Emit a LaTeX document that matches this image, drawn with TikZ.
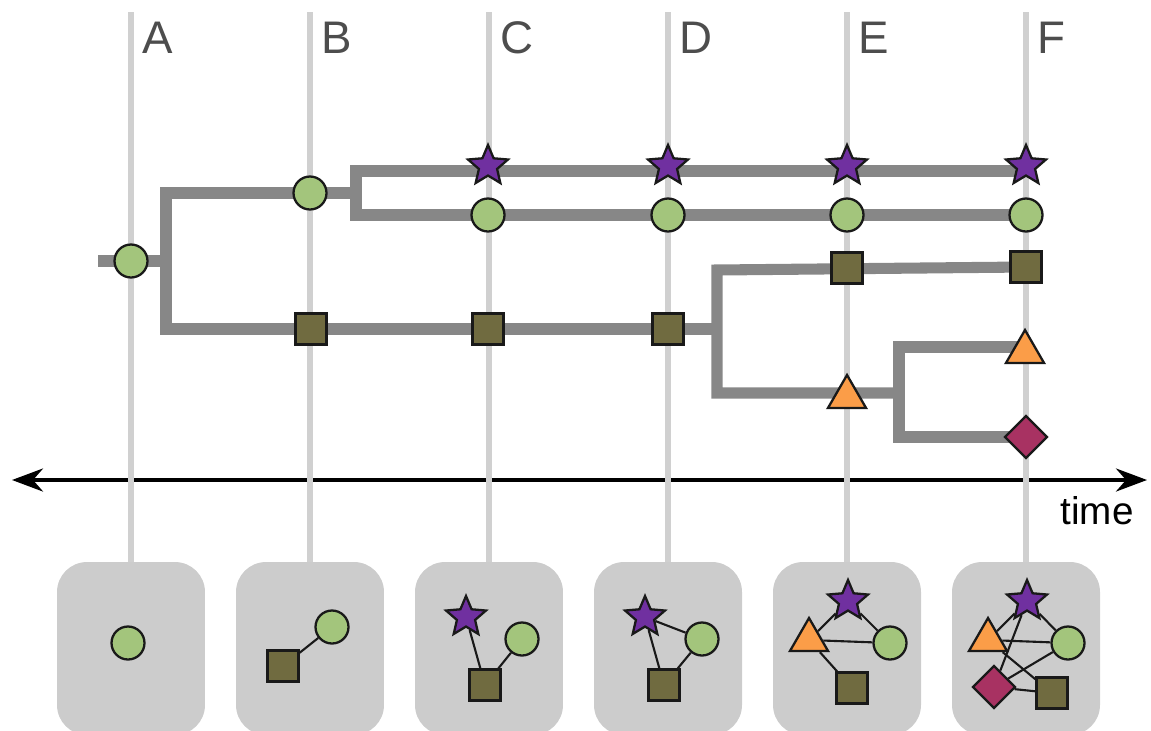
\documentclass[tikz,border=0pt]{standalone}
\usepackage{fontspec}
\setmainfont{Liberation Sans}
\usepackage{xcolor}
\usetikzlibrary{shapes.geometric,arrows.meta}
\definecolor{branchgray}{RGB}{135,135,135}
\definecolor{guidegray}{RGB}{208,208,208}
\definecolor{panelgray}{RGB}{204,204,204}
\definecolor{lettergray}{RGB}{77,77,77}
\definecolor{leafgreen}{RGB}{163,197,124}
\definecolor{mossolive}{RGB}{112,107,64}
\definecolor{starpurple}{RGB}{112,48,160}
\definecolor{triorange}{RGB}{251,157,72}
\definecolor{diamagenta}{RGB}{168,50,98}

\begin{document}
\begin{tikzpicture}[x=0.02cm,y=-0.02cm,
  circ/.style={circle,draw=black!90,line width=1.3pt,fill=leafgreen,minimum size=0.66cm,inner sep=0pt},
  sqr/.style={rectangle,draw=black!90,line width=1.3pt,fill=mossolive,minimum size=0.62cm,inner sep=0pt},
  strr/.style={star,star points=5,star point ratio=2.2,draw=black!90,line width=1.3pt,fill=starpurple,minimum size=0.84cm,inner sep=0pt},
  tri/.style={regular polygon,regular polygon sides=3,draw=black!90,line width=1.3pt,fill=triorange,minimum size=0.88cm,inner sep=0pt},
  dia/.style={diamond,draw=black!90,line width=1.3pt,fill=diamagenta,minimum width=0.86cm,minimum height=0.86cm,inner sep=0pt},
  branch/.style={line width=6.3pt,branchgray},
  guide/.style={line width=3.2pt,guidegray},
  panel/.style={rectangle,rounded corners=0.6cm,fill=panelgray,minimum width=2.96cm,minimum height=3.46cm},
  link/.style={line width=1.2pt,black!90},
  letter/.style={anchor=base west,inner sep=0pt,text=lettergray,font=\fontsize{26}{30}\selectfont},
  axis/.style={line width=2.2pt,{Stealth[length=0.62cm,width=0.46cm,inset=0.2cm]}-{Stealth[length=0.62cm,width=0.46cm,inset=0.2cm]}}]
\useasboundingbox (0,0) rectangle (1151,730);

% Time axis
\coordinate (tl) at (12,480);
\coordinate (tr) at (1147,480);
\draw[axis] (tl) -- (tr);
\node[inner sep=0pt,font=\fontsize{22}{26}\selectfont] (timelbl) at (1097,511) {time};

% Snapshot panels
\node[panel] (panelA) at (131,648.5) {};
\node[panel] (panelB) at (310,648.5) {};
\node[panel] (panelC) at (489,648.5) {};
\node[panel] (panelD) at (668,648.5) {};
\node[panel] (panelE) at (847,648.5) {};
\node[panel] (panelF) at (1026,648.5) {};

% Guide lines and letters
\coordinate (topA) at (131,12);
\coordinate (topB) at (310,12);
\coordinate (topC) at (489,12);
\coordinate (topD) at (668,12);
\coordinate (topE) at (847,12);
\coordinate (topF) at (1026,12);
\draw[guide] (topA) -- (panelA.north);
\draw[guide] (topB) -- (panelB.north);
\draw[guide] (topC) -- (panelC.north);
\draw[guide] (topD) -- (panelD.north);
\draw[guide] (topE) -- (panelE.north);
\draw[guide] (topF) -- (panelF.north);
\node[letter] (labA) at (142,53) {A};
\node[letter] (labB) at (321,53) {B};
\node[letter] (labC) at (500,53) {C};
\node[letter] (labD) at (679,53) {D};
\node[letter] (labE) at (858,53) {E};
\node[letter] (labF) at (1037,53) {F};

% Tree junctions
\coordinate (r0) at (98,261);
\coordinate (k1) at (166,261);
\coordinate (k1u) at (166,193);
\coordinate (k1d) at (166,329);
\coordinate (k2u) at (356,171);
\coordinate (k2d) at (356,215);
\coordinate (k3) at (717,329);
\coordinate (k3u) at (717,270);
\coordinate (k3d) at (717,393);
\coordinate (k4) at (899,393);
\coordinate (k4u) at (899,347);
\coordinate (k4d) at (899,437);
\coordinate (eF1) at (1026,171);
\coordinate (eF2) at (1026,215);
\coordinate (eF3) at (1026,267);
\coordinate (eF4) at (1026,347);
\coordinate (eF5) at (1026,437);

% Tree branches
\draw[branch] (r0) -- (k1);
\draw[branch] (356,193) -- (k1u) -- (k1d) -- (k3);
\draw[branch] (eF1) -- (k2u) -- (k2d) -- (eF2);
\draw[branch] (eF3) -- (k3u) -- (k3d) -- (k4);
\draw[branch] (eF4) -- (k4u) -- (k4d) -- (eF5);

% Tree species
\node[circ] (tAcirc) at (131,261) {};
\node[circ] (tBcirc) at (310,193) {};
\node[sqr] (tBsq) at (311,329) {};
\node[strr] (tCstar) at (488,166) {};
\node[circ] (tCcirc) at (488,215) {};
\node[sqr] (tCsq) at (488,329) {};
\node[strr] (tDstar) at (668,166) {};
\node[circ] (tDcirc) at (668,215) {};
\node[sqr] (tDsq) at (668,329) {};
\node[strr] (tEstar) at (847,166) {};
\node[circ] (tEcirc) at (847,215) {};
\node[sqr] (tEsq) at (847,268) {};
\node[tri] (tEtri) at (847,397) {};
\node[strr] (tFstar) at (1026,166) {};
\node[circ] (tFcirc) at (1026,215) {};
\node[sqr] (tFsq) at (1026,267) {};
\node[tri] (tFtri) at (1025,352) {};
\node[dia] (tFdia) at (1026,437) {};

% Panel A
\node[circ] (pAcirc) at (128,643) {};

% Panel B
\node[circ] (pBcirc) at (332,627) {};
\node[sqr] (pBsq) at (283,666) {};
\draw[link] (pBsq) -- (pBcirc);

% Panel C
\node[strr] (pCstar) at (466,617) {};
\node[circ] (pCcirc) at (522,639) {};
\node[sqr] (pCsq) at (485,685) {};
\draw[link] (pCstar) -- (pCsq);
\draw[link] (pCcirc) -- (pCsq);

% Panel D
\node[strr] (pDstar) at (645,617) {};
\node[circ] (pDcirc) at (702,639) {};
\node[sqr] (pDsq) at (664,685) {};
\draw[link] (pDstar) -- (pDsq);
\draw[link] (pDstar) -- (pDcirc);
\draw[link] (pDcirc) -- (pDsq);

% Panel E
\node[strr] (pEstar) at (848,601) {};
\node[tri] (pEtri) at (809,640) {};
\node[circ] (pEcirc) at (890,643) {};
\node[sqr] (pEsq) at (852,688) {};
\draw[link] (pEstar) -- (pEtri);
\draw[link] (pEstar) -- (pEcirc);
\draw[link] (pEtri) -- (pEcirc);
\draw[link] (pEtri) -- (pEsq);

% Panel F
\node[strr] (pFstar) at (1027,601) {};
\node[tri] (pFtri) at (988,640) {};
\node[circ] (pFcirc) at (1068,643) {};
\node[dia] (pFdia) at (994,687) {};
\node[sqr] (pFsq) at (1052,693) {};
\draw[link] (pFstar) -- (pFtri);
\draw[link] (pFstar) -- (pFcirc);
\draw[link] (pFstar) -- (pFdia);
\draw[link] (pFtri) -- (pFcirc);
\draw[link] (pFtri) -- (pFsq);
\draw[link] (pFcirc) -- (pFdia);
\draw[link] (pFdia) -- (pFsq);
\end{tikzpicture}
\end{document}
